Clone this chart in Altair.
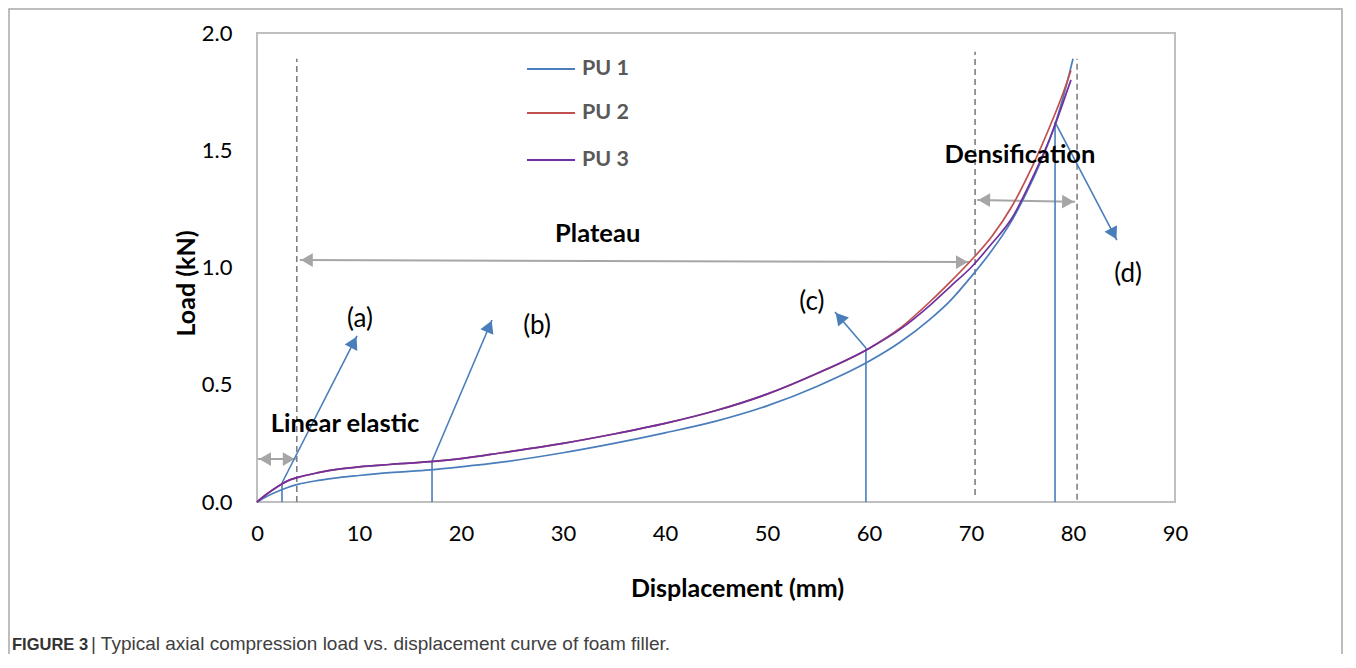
import math
import altair as alt
import pandas as pd

# ---------------- data ----------------
disp_pu1 = [0, 1, 2, 3, 4, 6, 8, 10, 13, 17, 20, 24, 30, 35, 40, 45, 50, 55, 60, 63, 66, 68, 70, 72, 74, 76, 78, 79, 80]
load_pu1 = [0, 0.025, 0.045, 0.062, 0.075, 0.092, 0.104, 0.113, 0.125, 0.137, 0.15, 0.17, 0.21, 0.25, 0.295, 0.345,
            0.41, 0.495, 0.60, 0.68, 0.78, 0.86, 0.96, 1.07, 1.20, 1.37, 1.58, 1.72, 1.89]

disp_pu23 = [0, 1, 2, 3, 4, 6, 8, 10, 13, 17, 20, 24, 30, 35, 40, 45, 50, 55, 60, 63, 66, 68, 70, 72, 74, 76, 78, 79, 79.8]
load_pu2 = [0, 0.035, 0.065, 0.09, 0.105, 0.125, 0.14, 0.15, 0.16, 0.172, 0.185, 0.21, 0.25, 0.29, 0.335, 0.39,
            0.46, 0.55, 0.655, 0.74, 0.855, 0.94, 1.03, 1.13, 1.26, 1.43, 1.63, 1.74, 1.84]
load_pu3 = [0, 0.035, 0.065, 0.09, 0.105, 0.125, 0.14, 0.15, 0.16, 0.172, 0.185, 0.21, 0.25, 0.29, 0.335, 0.39,
            0.46, 0.55, 0.655, 0.735, 0.84, 0.92, 1.00, 1.10, 1.21, 1.38, 1.58, 1.70, 1.80]

series_names = ["PU 1", "PU 2", "PU 3"]
series_colors = ["#4a7ebb", "#c0504d", "#7030a0"]

x_ticks = [0, 10, 20, 30, 40, 50, 60, 70, 80, 90]
y_ticks = [0.0, 0.5, 1.0, 1.5, 2.0]

# dashed region boundaries: x, y bottom, y top
dash_x = [3.9, 70.4, 80.4]
dash_y0 = [0.0, 0.03, 0.01]
dash_y1 = [1.89, 1.92, 1.89]

# grey double arrows: x0, y0, x1, y1
g_x0 = [0.1, 4.2, 70.6]
g_y0 = [0.183, 1.032, 1.288]
g_x1 = [3.8, 69.8, 80.2]
g_y1 = [0.183, 1.023, 1.280]

# region labels
region_text = ["Linear elastic", "Plateau", "Densification"]
region_x = [8.63, 33.4, 74.8]
region_y = [0.333, 1.143, 1.48]

# blue pointer arrows: foot x, knee y, tip x, tip y
b_x = [2.45, 17.16, 59.7, 78.24]
b_knee = [0.081, 0.175, 0.657, 1.62]
b_tipx = [9.80, 23.04, 56.67, 84.3]
b_tipy = [0.708, 0.776, 0.81, 1.117]
b_text = ["(a)", "(b)", "(c)", "(d)"]
b_text_x = [10.1, 27.45, 54.4, 85.4]
b_text_y = [0.78, 0.75, 0.853, 0.972]

# legend placement (data coords)
leg_x0, leg_x1, leg_tx = 26.47, 31.18, 31.86
leg_y = [1.846, 1.659, 1.458]

caption_bold = "FIGURE 3"
caption_rest = "| Typical axial compression load vs. displacement curve of foam filler."

# ---------------- layout ----------------
W, H = 918, 469
XMAX, YMAX = 90, 2.0
sx, sy = W / XMAX, H / YMAX
PAD = {"left": 249, "top": 25, "right": 169, "bottom": 152}
FONT = "Lato"

xs = alt.Scale(domain=[0, XMAX], nice=False, zero=False)
ys = alt.Scale(domain=[0, YMAX], nice=False, zero=False)

rows = []
for n, d, l in [("PU 1", disp_pu1, load_pu1), ("PU 2", disp_pu23, load_pu2), ("PU 3", disp_pu23, load_pu3)]:
    for a, b in zip(d, l):
        rows.append({"series": n, "disp": a, "load": b})
curves_df = pd.DataFrame(rows)

x_axis = alt.Axis(values=x_ticks, title="Displacement (mm)", grid=False, ticks=False, tickSize=0, domain=False,
                  labelFlush=False, labelOverlap=False,
                  labelFont=FONT, labelFontSize=22, labelColor="#000000", labelPadding=21,
                  titleFont=FONT, titleFontSize=25, titleFontWeight="bold", titleColor="#000000",
                  titleX=480, titleY=86, titleBaseline="middle", titleAlign="center")
y_axis = alt.Axis(values=y_ticks, format=".1f", title="Load (kN)", grid=False, ticks=False, tickSize=0, domain=False,
                  labelFlush=False, labelOverlap=False,
                  labelFont=FONT, labelFontSize=22, labelColor="#000000", labelPadding=25,
                  titleFont=FONT, titleFontSize=25, titleFontWeight="bold", titleColor="#000000",
                  titleX=-71, titleY=250, titleBaseline="middle", titleAlign="center", titleAngle=270)

curves = alt.Chart(curves_df).mark_line(strokeWidth=1.7, interpolate="monotone").encode(
    x=alt.X("disp:Q", scale=xs, axis=x_axis),
    y=alt.Y("load:Q", scale=ys, axis=y_axis),
    color=alt.Color("series:N", scale=alt.Scale(domain=series_names, range=series_colors), legend=None),
    order="disp:Q",
)

dash_df = pd.DataFrame({"x": dash_x, "y": dash_y0, "y2": dash_y1})
dashes = alt.Chart(dash_df).mark_rule(color="#7f7f7f", strokeWidth=1.6, strokeDash=[6, 4]).encode(
    x=alt.X("x:Q", scale=xs), y=alt.Y("y:Q", scale=ys), y2="y2:Q")


def head(x0, y0, x1, y1, back=7.0):
    dxp = (x1 - x0) * sx
    dyp = -(y1 - y0) * sy
    L = math.hypot(dxp, dyp)
    ux, uy = dxp / L, dyp / L
    ang = math.degrees(math.atan2(ux, -uy)) % 360
    return x1 - ux * back / sx, y1 + uy * back / sy, ang


g_df = pd.DataFrame({"x": g_x0, "y": g_y0, "x2": g_x1, "y2": g_y1})
g_lines = alt.Chart(g_df).mark_rule(color="#a6a6a6", strokeWidth=2).encode(
    x=alt.X("x:Q", scale=xs), y=alt.Y("y:Q", scale=ys), x2="x2:Q", y2="y2:Q")
gh = []
for a, b, c, d in zip(g_x0, g_y0, g_x1, g_y1):
    hx, hy, an = head(a, b, c, d)
    gh.append({"x": hx, "y": hy, "angle": an})
    hx, hy, an = head(c, d, a, b)
    gh.append({"x": hx, "y": hy, "angle": an})
g_heads = alt.Chart(pd.DataFrame(gh)).mark_point(shape="triangle-up", filled=True, opacity=1,
                                                 color="#a6a6a6", size=190).encode(
    x=alt.X("x:Q", scale=xs), y=alt.Y("y:Q", scale=ys), angle=alt.Angle("angle:Q", scale=None))

seg = []
bh = []
for fx, ky, tx, ty in zip(b_x, b_knee, b_tipx, b_tipy):
    seg.append({"x": fx, "y": 0.0, "x2": fx, "y2": ky})
    seg.append({"x": fx, "y": ky, "x2": tx, "y2": ty})
    hx, hy, an = head(fx, ky, tx, ty)
    bh.append({"x": hx, "y": hy, "angle": an})
b_lines = alt.Chart(pd.DataFrame(seg)).mark_rule(color="#4a7ebb", strokeWidth=1.6).encode(
    x=alt.X("x:Q", scale=xs), y=alt.Y("y:Q", scale=ys), x2="x2:Q", y2="y2:Q")
b_heads = alt.Chart(pd.DataFrame(bh)).mark_point(shape="triangle-up", filled=True, opacity=1,
                                                 color="#4a7ebb", size=200).encode(
    x=alt.X("x:Q", scale=xs), y=alt.Y("y:Q", scale=ys), angle=alt.Angle("angle:Q", scale=None))

b_labels = alt.Chart(pd.DataFrame({"t": b_text, "x": b_text_x, "y": b_text_y})).mark_text(
    font=FONT, fontSize=26, color="#000000", baseline="middle", align="center").encode(
    x=alt.X("x:Q", scale=xs), y=alt.Y("y:Q", scale=ys), text="t:N")

r_labels = alt.Chart(pd.DataFrame({"t": region_text, "x": region_x, "y": region_y})).mark_text(
    font=FONT, fontSize=25.5, fontWeight="bold", color="#000000", baseline="middle", align="center").encode(
    x=alt.X("x:Q", scale=xs), y=alt.Y("y:Q", scale=ys), text="t:N")

leg_df = pd.DataFrame({"series": series_names, "x": [leg_x0] * 3, "x2": [leg_x1] * 3, "tx": [leg_tx] * 3, "y": leg_y})
leg_lines = alt.Chart(leg_df).mark_rule(strokeWidth=2).encode(
    x=alt.X("x:Q", scale=xs), x2="x2:Q", y=alt.Y("y:Q", scale=ys),
    color=alt.Color("series:N", scale=alt.Scale(domain=series_names, range=series_colors), legend=None))
leg_text = alt.Chart(leg_df).mark_text(font=FONT, fontSize=21.5, fontWeight="bold", color="#595959",
                                       align="left", baseline="middle").encode(
    x=alt.X("tx:Q", scale=xs), y=alt.Y("y:Q", scale=ys), text="series:N")

one = pd.DataFrame({"a": [0]})
frame = alt.Chart(one).mark_rect(filled=False, stroke="#a8a8a8", strokeWidth=1.5).encode(
    x=alt.value(-PAD["left"] + 1), x2=alt.value(W + PAD["right"] - 2),
    y=alt.value(-PAD["top"] + 1), y2=alt.value(H + 300))

CAP_FONT = "Liberation Sans"
cap1 = alt.Chart(one).mark_text(font=CAP_FONT, fontSize=16.5, fontWeight="bold", color="#333333",
                                align="left", baseline="alphabetic").encode(
    x=alt.value(12 - 257), y=alt.value(650 - 33), text=alt.value(caption_bold))
cap2 = alt.Chart(one).mark_text(font=CAP_FONT, fontSize=19, color="#404040",
                                align="left", baseline="alphabetic").encode(
    x=alt.value(91 - 257), y=alt.value(650 - 33), text=alt.value(caption_rest))

chart = alt.layer(frame, dashes, g_lines, g_heads, b_lines, b_heads, curves, leg_lines, leg_text,
                  r_labels, b_labels, cap1, cap2).properties(
    width=W, height=H, padding=PAD, autosize=alt.AutoSizeParams(type="none"),
    background="#ffffff",
).configure_view(stroke="#bfbfbf", strokeWidth=2)

chart.save("out.html", embed_options={"renderer": "svg", "actions": False})
